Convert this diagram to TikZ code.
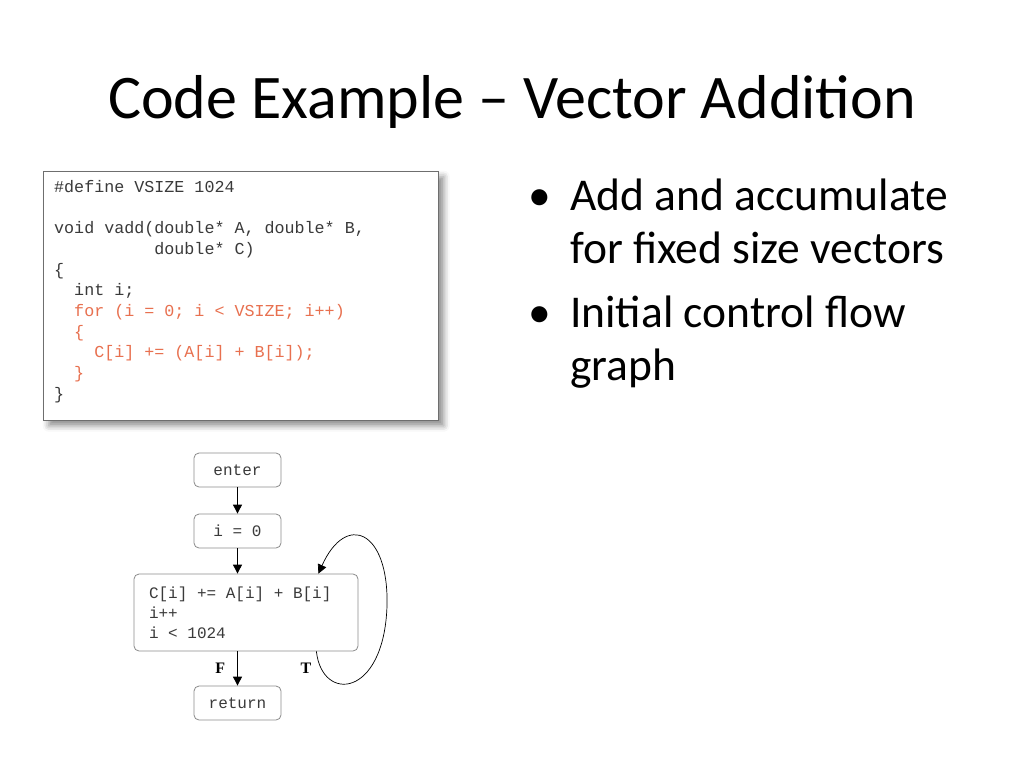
\documentclass[tikz,border=0pt]{standalone}
\usepackage{fontspec}
\setmainfont{Carlito}
\newfontfamily\codefont{Liberation Mono}[WordSpace={1,0,0}]
\newfontfamily\lblfont{Liberation Serif}
\usetikzlibrary{arrows.meta, calc, shadows.blur}
\definecolor{cTxt}{HTML}{3A3A3A}
\definecolor{cLoop}{HTML}{E8704F}
\definecolor{cEdge}{HTML}{6E6E6E}
\tikzset{
    title/.style ={font=\fontsize{62}{70}\selectfont, inner sep=0pt},
    bul/.style   ={font=\fontsize{45.5}{53}\selectfont, align=left, inner sep=0pt},
    codebox/.style={draw=cEdge, line width=1.4pt, fill=white,
                   minimum width=395pt, minimum height=249pt,
                   blur shadow={shadow xshift=5pt, shadow yshift=-5pt,
                   shadow blur radius=6pt, shadow opacity=45}},
    codetxt/.style={align=left, inner sep=0pt, text=cTxt,
                   font=\codefont\fontsize{16.7}{20.7}\selectfont},
    blk/.style   ={draw=cEdge!80, line width=0.8pt, rounded corners=5pt, fill=white,
                   font=\codefont\fontsize{16}{20}\selectfont, text=cTxt,
                   minimum width=87pt, minimum height=34pt, inner sep=0pt},
    flow/.style  ={-{Triangle[length=9pt, width=9pt]}, line width=0.9pt, black},
    tf/.style    ={font=\lblfont\bfseries\fontsize{16}{18}\selectfont, inner sep=0pt},
}
\newcommand{\ind}[1]{\phantom{#1}}

\begin{document}
\begin{tikzpicture}[x=1pt, y=-1pt]
\useasboundingbox (0,0) rectangle (1024,768);

% ===================== Titel =====================
\node[title, anchor=base] (ttl) at (512,118) {Code Example -- Vector Addition};

% ===================== Aufzaehlung =====================
\node[bul, anchor=base west] (b1) at (570,263) {Add and accumulate\\for fixed size vectors};
\node[bul, anchor=base west] (b2) at (570,380) {Initial control flow\\graph};
\node[bul, anchor=base] at (540,210) {\textbullet};
\node[bul, anchor=base] at (540,327) {\textbullet};

% ===================== Quelltext =====================
\node[codebox, anchor=north west] (code) at (43,171) {};
\node[codetxt, anchor=north west] (src) at ($(code.north west)+(11,9)$)
     {\#define VSIZE 1024\\
      \strut\\
      void vadd(double* A, double* B,\\
      \ind{xxxxxxxxxx}double* C)\\
      \{\\
      \ind{xx}int i;\\
      \textcolor{cLoop}{\ind{xx}for (i = 0; i < VSIZE; i++)}\\
      \textcolor{cLoop}{\ind{xx}\{}\\
      \textcolor{cLoop}{\ind{xxxx}C[i] += (A[i] + B[i]);}\\
      \textcolor{cLoop}{\ind{xx}\}}\\
      \}};

% ===================== Kontrollflussgraph =====================
\node[blk] (enter) at (237.5,470) {enter};
\node[blk] (init)  at (237.5,531) {i = 0};
\node[blk, minimum width=224pt, minimum height=77pt, align=left, text width=194pt]
     (body) at (246,612.5) {\spaceskip=0pt\relax C[i] += A[i] + B[i]\\i++\\i < 1024};
\node[blk] (ret)   at (237.5,703) {return};

\draw[flow] (enter) -- (init);
\draw[flow] (init) -- (init |- body.north);
\draw[flow] (body.south -| ret) -- (ret) node[pos=0.5, left=12pt, tf] (lf) {F};

% Rueckkante
\coordinate (lpS) at ($(body.south east)+(-42,0)$);
\coordinate (lpR) at (387,606);
\coordinate (lpE) at ($(body.north east)+(-40,0)$);
\draw[flow, line width=0.7pt] (lpS) .. controls (322,703) and (384,698) .. (lpR)
      .. controls (389,530) and (346,512) .. (lpE);
\node[tf] (lt) at (306,668) {T};

\end{tikzpicture}
\end{document}
